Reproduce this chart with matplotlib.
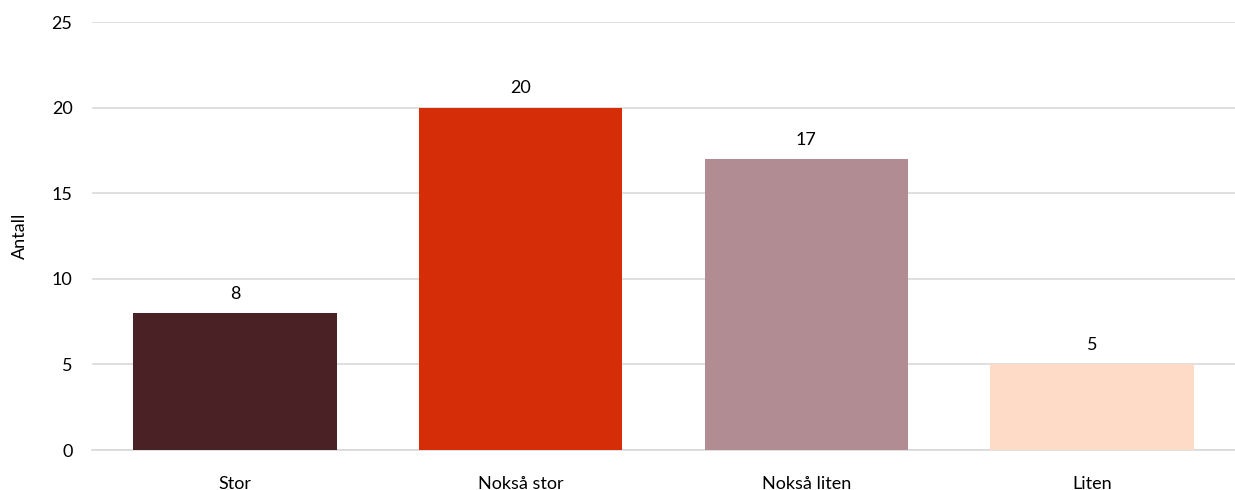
import matplotlib
matplotlib.use("Agg")
import matplotlib.pyplot as plt

categories = ["Stor", "Nokså stor", "Nokså liten", "Liten"]
values = [8, 20, 17, 5]
colors = ["#4A2225", "#D42D07", "#B18C93", "#FDDBC6"]
yticks = [0, 5, 10, 15, 20, 25]

plt.rcParams['font.family'] = ['Lato', 'DejaVu Sans']

fig = plt.figure(figsize=(12.35, 4.9), dpi=100)
ax = fig.add_axes([92/1235, 1-450/490, (1235-92)/1235, 428/490])

x = list(range(len(categories)))
bars = ax.bar(x, values, width=0.713, color=colors, zorder=3)
for xi, v in zip(x, values):
    ax.annotate(str(v), (xi, v), xytext=(0, 8), textcoords="offset points",
                ha="center", va="bottom", fontsize=13, color="#000000")

ax.set_xlim(-0.5, len(categories) - 0.5)
ax.set_ylim(0, 25)
ax.set_yticks(yticks)
ax.set_xticks(x)
ax.set_xticklabels(categories)
ax.yaxis.grid(True, color="#D9D9D9", linewidth=1.2, zorder=0)
for s in ["top", "right", "left"]:
    ax.spines[s].set_visible(False)
ax.spines["bottom"].set_color("#D9D9D9")
ax.spines["bottom"].set_linewidth(1.2)
ax.tick_params(axis="y", length=0, pad=14, labelsize=13, labelcolor="#000000")
ax.tick_params(axis="x", length=0, pad=18.5, labelsize=13, labelcolor="#000000")
ax.set_ylabel("Antall", fontsize=13, labelpad=17)

fig.savefig("out.png", dpi=100)
